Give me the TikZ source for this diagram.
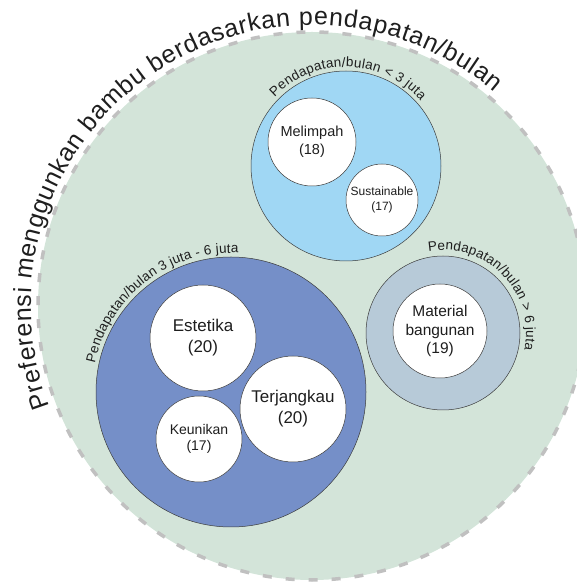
\documentclass[tikz,border=0pt]{standalone}
\usepackage{fontspec}
\setmainfont{Liberation Sans}
\usetikzlibrary{decorations.text}
\definecolor{bggreen}{RGB}{211,228,217}
\definecolor{lightblue}{RGB}{160,215,244}
\definecolor{darkblue}{RGB}{117,143,200}
\definecolor{greyblue}{RGB}{183,202,216}
\definecolor{dashgrey}{RGB}{192,192,192}
\definecolor{edge}{RGB}{60,60,60}
\definecolor{txt}{RGB}{30,30,30}
\begin{document}
\begin{tikzpicture}[x=1pt,y=1pt,
  group/.style={circle,draw=edge,line width=0.5pt,inner sep=0pt},
  item/.style={circle,draw=edge,line width=0.5pt,fill=white,inner sep=0pt,align=center,text=txt},
  arclabel/.style={decorate,decoration={text along path,text align={fit to path},text color=txt}}
]
\useasboundingbox (0,0) rectangle (577,584);
\clip (0,0) rectangle (577,584);
% background circle
\node[circle,fill=bggreen,draw=dashgrey,line width=3.5pt,dash pattern=on 9pt off 14pt,minimum size=548pt,inner sep=0pt] (bg) at (312,278) {};
% title
\path[arclabel,decoration={text={|\fontsize{25}{28}\selectfont|Preferensi menggunkan bambu berdasarkan pendapatan/bulan}}]
  (bg.center) ++(201:281) arc[start angle=201,end angle=49.5,radius=281];
% < 3 juta group
\node[group,fill=lightblue,minimum size=190pt] (g1) at (346,418) {};
\path[arclabel,decoration={text={|\fontsize{13.5}{15}\selectfont|Pendapatan/bulan < 3 juta}}]
  (g1.center) ++(136:99) arc[start angle=136,end angle=41,radius=99];
\node[item,minimum size=88pt,font=\fontsize{14.5}{18}\selectfont] (mel) at (312,442) {Melimpah\\(18)};
\node[item,minimum size=72pt,font=\fontsize{12}{15}\selectfont] (sus) at (382,384) {Sustainable\\(17)};
% 3-6 juta group
\node[group,fill=darkblue,minimum size=270pt] (g2) at (231,192) {};
\path[arclabel,decoration={text={|\fontsize{13.5}{15}\selectfont|Pendapatan/bulan 3 juta - 6 juta}}]
  (g2.center) ++(168:139) arc[start angle=168,end angle=87,radius=139];
\node[item,minimum size=106pt,font=\fontsize{17}{21}\selectfont] (est) at (203,246) {Estetika\\(20)};
\node[item,minimum size=106pt,font=\fontsize{17}{21}\selectfont] (ter) at (293,175) {Terjangkau\\(20)};
\node[item,minimum size=86pt,font=\fontsize{14}{16.5}\selectfont] (keu) at (199,145) {Keunikan\\(17)};
% > 6 juta group
\node[group,fill=greyblue,minimum size=154pt] (g3) at (443,251) {};
\path[arclabel,decoration={text={|\fontsize{13.5}{15}\selectfont|Pendapatan/bulan > 6 juta}}]
  (g3.center) ++(100:83) arc[start angle=100,end angle=-11.5,radius=83];
\node[item,minimum size=94pt,font=\fontsize{15.5}{18.5}\selectfont] (mat) at (440,253) {Material\\bangunan\\(19)};
\end{tikzpicture}
\end{document}
